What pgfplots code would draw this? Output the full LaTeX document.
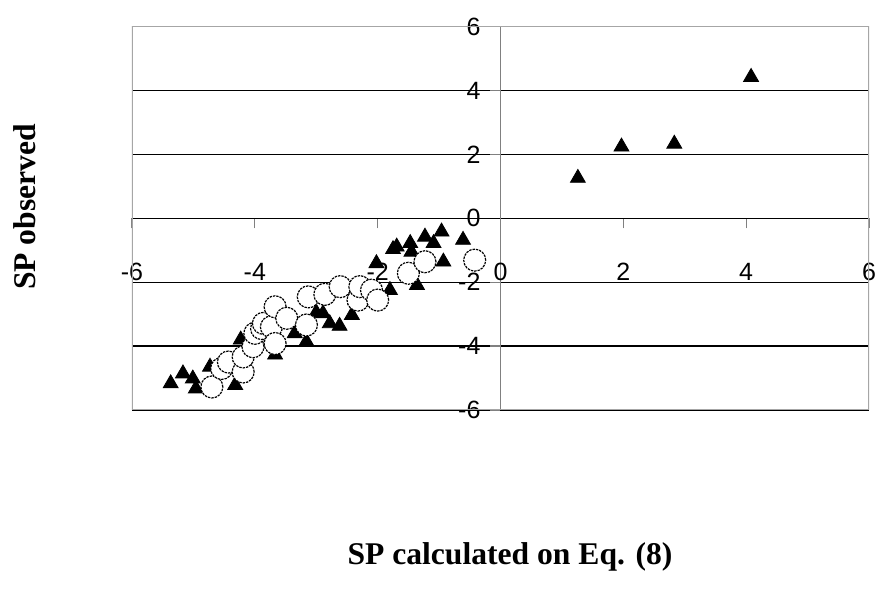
\documentclass[border=0pt]{standalone}
\usepackage{fontspec}
\setmainfont{Liberation Sans}
\newfontfamily\timesfont{Liberation Serif}
\usepackage{pgfplots}
\pgfplotsset{compat=1.18}
\definecolor{framegray}{HTML}{A6A6A6}
\definecolor{axisgray}{HTML}{808080}

\begin{document}
\begin{tikzpicture}
\begin{axis}[
    at={(0,0)}, anchor=south west,
    scale only axis, width=368.5pt, height=191.7pt,
    xmin=-6, xmax=6, ymin=-6, ymax=6,
    axis lines=middle, axis line style={-},
    x axis line style={black, line width=0.6pt},
    y axis line style={axisgray, line width=0.6pt},
    xtick={-6,-4,...,6}, ytick={-6,-4,...,6},
    hide obscured x ticks=false, hide obscured y ticks=false,
    tick align=outside, major tick length=5pt,
    tick style={axisgray, line width=0.6pt},
    ymajorgrids, major grid style={black, line width=0.6pt},
    /pgf/number format/assume math mode=true,
    xticklabel style={font=\fontsize{12.5}{14}\selectfont, anchor=north, yshift=-14pt},
    yticklabel style={font=\fontsize{12.5}{14}\selectfont, anchor=east, xshift=-1.5pt},
    xlabel={SP calculated on Eq. (8)},
    ylabel={SP observed},
    every axis x label/.style={at={(rel axis cs:0.5,0)}, anchor=center,
        yshift=-73.5pt, xshift=4.75pt, font=\timesfont\bfseries\fontsize{15.8}{18}\selectfont},
    every axis y label/.style={at={(rel axis cs:0,0.5)}, anchor=center,
        xshift=-53.5pt, yshift=5.7pt, rotate=90, font=\timesfont\bfseries\fontsize{15.8}{18}\selectfont},
]
\draw[framegray, line width=0.6pt] (rel axis cs:0,0) rectangle (rel axis cs:1,1);

% triangles
\addplot[only marks, mark=triangle*, mark size=4.3pt,
    mark options={fill=black, draw=black}] coordinates {
    (-5.37,-5.17) (-5.17,-4.86) (-5.01,-5.02) (-4.96,-5.33) (-4.73,-4.65)
    (-4.32,-5.22) (-4.23,-3.80) (-3.67,-4.27) (-3.35,-3.60) (-3.16,-3.86)
    (-3.00,-2.95) (-2.89,-2.98) (-2.78,-3.29) (-2.62,-3.37) (-2.42,-3.03)
    (-2.02,-1.41) (-1.80,-2.25) (-1.75,-0.97) (-1.69,-0.89) (-1.47,-0.78)
    (-1.45,-1.05) (-1.36,-2.09) (-1.23,-0.58) (-1.09,-0.78) (-0.96,-0.42)
    (-0.93,-1.36) (-0.61,-0.68)
    (1.26,1.26) (1.97,2.24) (2.83,2.33) (4.08,4.42)
};

% circles
\addplot[only marks, mark=*, mark size=5.5pt,
    mark options={fill=white, draw=black, dash pattern=on 1.2pt off 0.5pt, line width=0.6pt}] coordinates {
    (-4.70,-5.28) (-4.54,-4.70) (-4.43,-4.50) (-4.19,-4.81) (-4.19,-4.34)
    (-4.03,-4.02) (-4.00,-3.60) (-3.89,-3.45) (-3.86,-3.29) (-3.73,-3.40)
    (-3.67,-3.92) (-3.67,-2.77) (-3.48,-3.13) (-3.16,-3.34) (-3.13,-2.46)
    (-2.86,-2.38) (-2.61,-2.14) (-2.32,-2.56) (-2.29,-2.14) (-2.10,-2.25)
    (-2.00,-2.56) (-1.50,-1.72) (-1.23,-1.36) (-0.42,-1.31)
};
\end{axis}
\pgfresetboundingbox
\path[use as bounding box] (-66pt,-93.5pt) rectangle (374pt,205pt);
\end{tikzpicture}
\end{document}
